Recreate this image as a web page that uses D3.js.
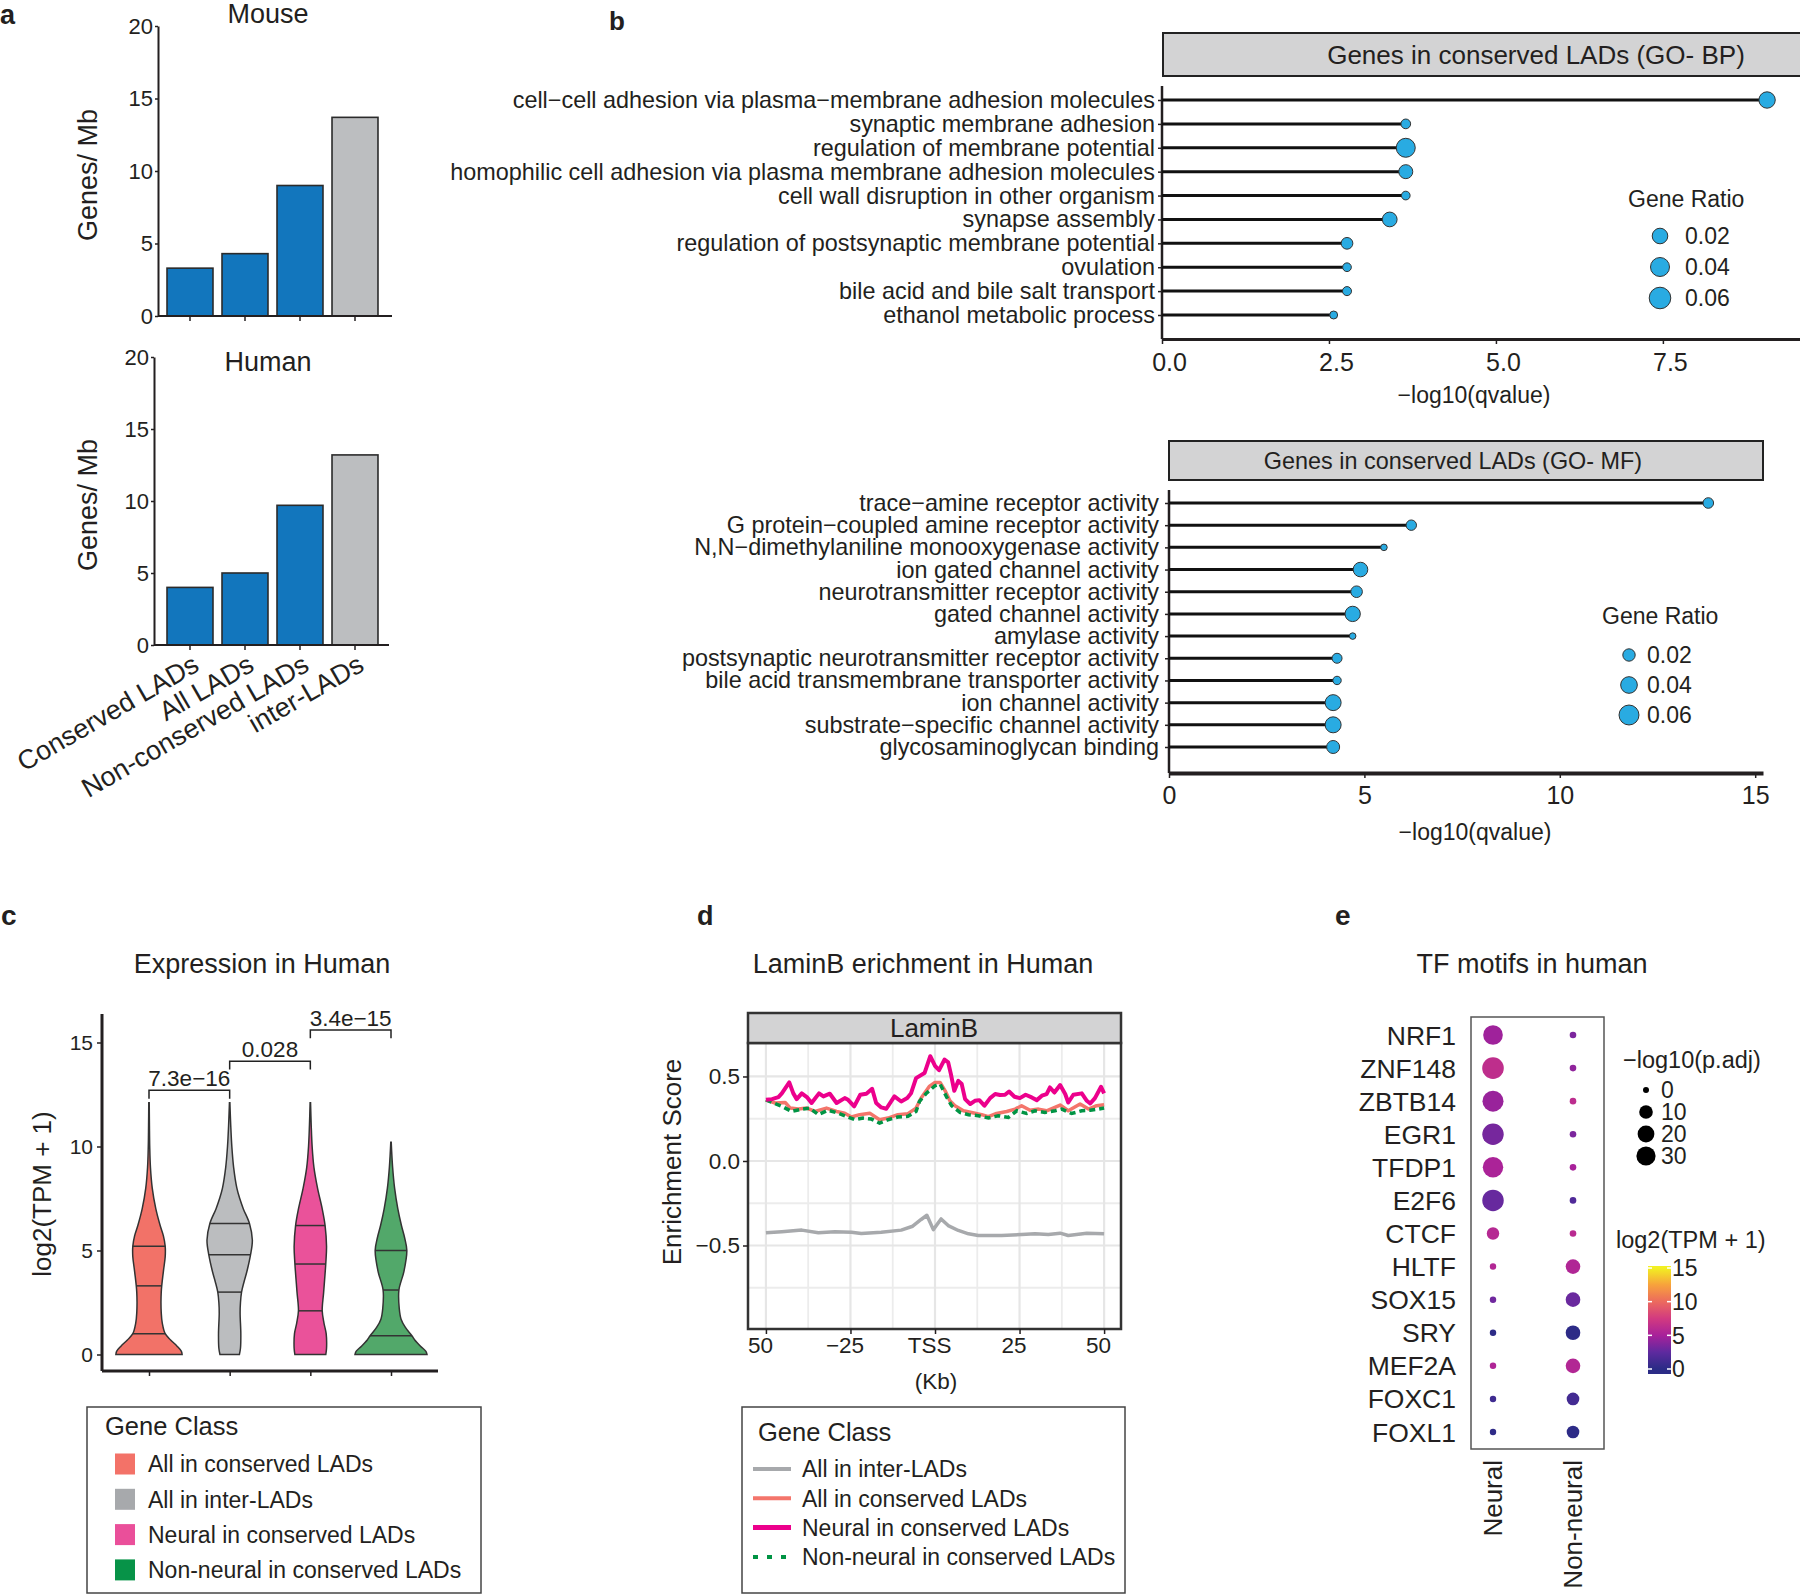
<!DOCTYPE html>
<html>
<head>
<meta charset="utf-8">
<script src="https://cdn.jsdelivr.net/npm/d3@7"></script>
<style>
  body { margin: 0; background: #fff; }
</style>
</head>
<body>
<script>
// ---------- data ----------
var ladClasses = ["Conserved LADs", "All LADs", "Non-conserved LADs", "inter-LADs"];
var mouseGenes = [3.3, 4.3, 9.0, 13.7];
var humanGenes = [4.0, 5.0, 9.7, 13.2];

var bpTerms = ["cell\u2212cell adhesion via plasma\u2212membrane adhesion molecules", "synaptic membrane adhesion",
  "regulation of membrane potential", "homophilic cell adhesion via plasma membrane adhesion molecules",
  "cell wall disruption in other organism", "synapse assembly", "regulation of postsynaptic membrane potential",
  "ovulation", "bile acid and bile salt transport", "ethanol metabolic process"];
var bpQ = [9.06, 3.65, 3.65, 3.65, 3.65, 3.41, 2.77, 2.77, 2.77, 2.57];
var bpRatio = [0.024, 0.0016, 0.04, 0.013, 0.0005, 0.016, 0.0055, 0.0005, 0.0008, 0.0001];

var mfTerms = ["trace\u2212amine receptor activity", "G protein\u2212coupled amine receptor activity",
  "N,N\u2212dimethylaniline monooxygenase activity", "ion gated channel activity", "neurotransmitter receptor activity",
  "gated channel activity", "amylase activity", "postsynaptic neurotransmitter receptor activity",
  "bile acid transmembrane transporter activity", "ion channel activity", "substrate\u2212specific channel activity",
  "glycosaminoglycan binding"];
var mfQ = [13.8, 6.2, 5.5, 4.9, 4.8, 4.7, 4.7, 4.3, 4.3, 4.2, 4.2, 4.2];
var mfRatio = [0.0136, 0.013, 0.0038, 0.0294, 0.017, 0.033, 0.0038, 0.0118, 0.0075, 0.0364, 0.0364, 0.0224];
var ratioLegend = [0.02, 0.04, 0.06];

var geneClasses = ["All in conserved LADs", "All in inter-LADs", "Neural in conserved LADs", "Non-neural in conserved LADs"];
// violin outlines: [log2(TPM+1), relative half width]
var violinConserved = [[0,0.92],[0.15,0.9],[0.4,0.78],[0.7,0.6],[1.0,0.45],[1.5,0.37],[2.0,0.34],[3.0,0.34],[4.0,0.4],[4.7,0.45],[5.2,0.45],[5.7,0.4],[6.2,0.31],[7.0,0.19],[8.0,0.09],[9.0,0.04],[10.0,0.02],[11.0,0.012],[12.1,0.006]];
var violinInter = [[0,0.27],[0.3,0.3],[1.0,0.31],[2.0,0.29],[2.5,0.3],[3.0,0.33],[3.5,0.4],[4.0,0.48],[4.8,0.58],[5.5,0.63],[6.3,0.55],[7.0,0.38],[7.5,0.28],[8.0,0.2],[9.0,0.11],[10.0,0.06],[11.0,0.03],[12.1,0.006]];
var violinNeural = [[0,0.43],[0.3,0.45],[1.0,0.44],[1.5,0.38],[2.1,0.33],[3.0,0.37],[4.4,0.43],[5.2,0.45],[6.2,0.41],[7.0,0.33],[8.0,0.2],[9.0,0.1],[10.0,0.05],[11.0,0.025],[12.1,0.006]];
var violinNonNeural = [[0,1.0],[0.15,0.97],[0.4,0.82],[0.7,0.66],[0.9,0.58],[1.3,0.4],[1.7,0.28],[2.2,0.23],[3.1,0.22],[4.0,0.36],[5.0,0.44],[5.6,0.38],[6.2,0.29],[7.0,0.19],[8.0,0.1],[9.0,0.045],[10.2,0.006]];
var violinQuartiles = [[1.0, 3.3, 5.2], [3.0, 4.8, 6.3], [2.1, 4.35, 6.2], [0.9, 3.1, 5.0]];
var pLabels = ["7.3e\u221216", "0.028", "3.4e\u221215"];
var pHeights = [12.7, 14.1, 15.6];

// LaminB profiles: [kb from TSS, enrichment score]
var interLADsProfile = [[-50,-0.425],[-45.3,-0.419],[-39.4,-0.409],[-34.5,-0.425],[-29.6,-0.419],[-24.7,-0.421],[-21.8,-0.429],[-15.9,-0.421],[-10.0,-0.409],[-6.6,-0.386],[-4.1,-0.346],[-2.4,-0.321],[-0.5,-0.406],[1.8,-0.343],[3.9,-0.382],[6.9,-0.411],[9.9,-0.431],[12.8,-0.441],[19.7,-0.441],[25.6,-0.435],[29.6,-0.431],[33.5,-0.435],[37.0,-0.427],[39.4,-0.441],[44.9,-0.427],[50,-0.431]];
var conservedProfile = [[-50,0.362],[-47.3,0.343],[-44.3,0.346],[-42.8,0.313],[-40.4,0.307],[-37.9,0.313],[-35.5,0.293],[-32.1,0.313],[-29.1,0.293],[-26.7,0.283],[-24.7,0.26],[-22.3,0.274],[-19.3,0.283],[-16.4,0.244],[-13.9,0.254],[-11.0,0.274],[-8.0,0.28],[-5.6,0.313],[-4.1,0.372],[-1.7,0.441],[0,0.465],[1.5,0.465],[3.0,0.415],[4.4,0.356],[5.9,0.327],[8.4,0.297],[10.8,0.287],[13.8,0.274],[15.8,0.262],[18.2,0.281],[21.2,0.293],[23.7,0.307],[25.6,0.327],[28.1,0.30],[30.6,0.307],[33.0,0.297],[37.0,0.331],[39.4,0.297],[42.9,0.337],[45.4,0.307],[47.8,0.327],[50,0.333]];
var neuralProfile = [[-50,0.362],[-48.2,0.366],[-46.3,0.378],[-45.3,0.40],[-43.1,0.465],[-41.9,0.40],[-40.9,0.366],[-39.4,0.40],[-37.9,0.378],[-36.5,0.343],[-34.3,0.40],[-33.0,0.382],[-31.1,0.398],[-29.1,0.343],[-26.7,0.372],[-25.7,0.362],[-23.9,0.323],[-22.1,0.392],[-20.3,0.398],[-18.6,0.427],[-17.4,0.343],[-15.9,0.317],[-14.4,0.309],[-12.0,0.382],[-10.0,0.352],[-8.2,0.372],[-7.1,0.40],[-5.6,0.49],[-3.1,0.52],[-1.4,0.62],[0,0.563],[1.2,0.537],[2.8,0.60],[3.9,0.583],[4.7,0.514],[5.7,0.415],[6.9,0.474],[7.9,0.455],[8.9,0.366],[10.4,0.337],[11.8,0.356],[13.1,0.36],[14.6,0.327],[16.3,0.372],[17.8,0.396],[19.2,0.39],[20.7,0.392],[21.9,0.411],[23.5,0.38],[25.1,0.372],[26.8,0.392],[28.6,0.376],[30.1,0.36],[31.6,0.386],[33.0,0.396],[34.0,0.435],[35.3,0.405],[37.0,0.449],[38.5,0.396],[39.4,0.346],[40.9,0.392],[43.4,0.40],[44.9,0.356],[45.9,0.34],[47.3,0.372],[49.1,0.439],[50,0.40]];
var nonNeuralProfile = [[-50,0.362],[-47.7,0.343],[-45.3,0.323],[-42.4,0.293],[-39.4,0.307],[-37.0,0.313],[-34.5,0.274],[-31.6,0.30],[-28.6,0.283],[-25.7,0.26],[-23.7,0.244],[-21.3,0.254],[-18.8,0.248],[-16.4,0.224],[-13.9,0.244],[-11.0,0.26],[-8.0,0.264],[-5.6,0.293],[-4.6,0.352],[-2.6,0.40],[0,0.445],[1.5,0.455],[3.5,0.376],[4.9,0.327],[7.4,0.287],[9.9,0.274],[12.8,0.268],[15.8,0.254],[18.7,0.268],[21.7,0.258],[24.2,0.297],[27.1,0.281],[29.6,0.297],[32.5,0.287],[35.5,0.297],[37.5,0.307],[40.4,0.281],[43.4,0.297],[45.9,0.30],[48.3,0.307],[50,0.313]];
var kbTicks = [-50, -25, 0, 25, 50];
var kbTickLabels = ["50", "\u221225", "TSS", "25", "50"];

var tfNames = ["NRF1", "ZNF148", "ZBTB14", "EGR1", "TFDP1", "E2F6", "CTCF", "HLTF", "SOX15", "SRY", "MEF2A", "FOXC1", "FOXL1"];
var tfGroups = ["Neural", "Non-neural"];
var neuralPadj = [32, 42, 39, 41, 36, 41, 7.1, 0.03, 0.03, 0.03, 0.03, 0.03, 0.03];
var nonNeuralPadj = [0.06, 0.06, 0.06, 0.06, 0.06, 0.06, 0.06, 12.8, 12.8, 12.8, 12.8, 7.6, 7.6];
var neuralTPM = [4.7, 6.3, 4.5, 3.3, 5.2, 2.8, 5.8, 5.6, 3.1, 0.1, 5.4, 1.0, 0.2];
var nonNeuralTPM = [3.5, 4.2, 6.2, 3.5, 5.0, 1.8, 6.0, 5.5, 2.9, 0.1, 5.6, 1.2, 0.1];
var padjLegend = [0, 10, 20, 30];
var tpmTicks = [0, 5, 10, 15];

// ---------- helpers ----------
var FONT = '"Liberation Sans", Arial, Helvetica, sans-serif';
var INK = "#231f20";
var svg = d3.select("body").append("svg").attr("width", 1800).attr("height", 1594);

function label(g, x, y, s, size, o) {
  o = o || {};
  return g.append("text").attr("x", x).attr("y", y).text(s)
    .attr("font-family", FONT).attr("font-size", size + "px").attr("fill", INK)
    .attr("text-anchor", o.anchor || "start")
    .attr("font-weight", o.weight || "normal")
    .attr("dy", o.dy || null)
    .attr("transform", o.rotate ? "rotate(" + o.rotate + "," + x + "," + y + ")" : null);
}

function styleAxis(ax, size, w) {
  ax.selectAll("text").attr("font-family", FONT).attr("font-size", size + "px").attr("fill", INK);
  ax.selectAll(".tick line").attr("stroke", INK).attr("stroke-width", 1.5);
  ax.select(".domain").attr("stroke", INK).attr("stroke-width", w);
}

// panel letters
label(svg, 0, 24, "a", 27, {weight: "bold"});
label(svg, 609, 30, "b", 26, {weight: "bold"});
label(svg, 1, 925, "c", 28, {weight: "bold"});
label(svg, 697, 925, "d", 27, {weight: "bold"});
label(svg, 1335, 925, "e", 28, {weight: "bold"});

// ---------- a: gene density bars ----------
function barPanel(title, vals, o) {
  var g = svg.append("g");
  var x = d3.scaleBand().domain(ladClasses).range([162.5, 382.5]).paddingInner(0.164).paddingOuter(0.082);
  var y = d3.scaleLinear().domain([0, 20]).range([o.y0, o.y20]);

  g.selectAll("rect").data(vals).enter().append("rect")
    .attr("x", function(d, i) { return x(ladClasses[i]); })
    .attr("width", x.bandwidth())
    .attr("y", function(d) { return y(d); })
    .attr("height", function(d) { return o.y0 - y(d); })
    .attr("fill", function(d, i) { return i == 3 ? "#bcbec0" : "#1276bd"; })
    .attr("stroke", "#2b2b2b").attr("stroke-width", 1.6);

  var ya = g.append("g").attr("transform", "translate(" + o.ax + ",0)")
    .call(d3.axisLeft(y).tickValues([0, 5, 10, 15, 20]).tickSize(3).tickSizeOuter(0).tickPadding(2));
  styleAxis(ya, 22, 2);

  var xa = g.append("g").attr("transform", "translate(0," + o.y0 + ")")
    .call(d3.axisBottom(x).tickSize(5).tickSizeOuter(0).tickFormat(""));
  styleAxis(xa, 22, 2);
  xa.select(".domain").attr("d", "M" + o.ax + ",0H" + o.xEnd);

  label(g, 268, o.titleY, title, o.titleSize, {anchor: "middle"});
  label(g, 88, o.labelY, "Genes/ Mb", 27, {anchor: "middle", rotate: -90, dy: "0.35em"});

  if (o.showX) {
    g.selectAll(".xl").data(ladClasses).enter().append("text")
      .attr("transform", function(d) { return "translate(" + (x(d) + x.bandwidth() / 2 + 1) + "," + (o.y0 + 8) + ") rotate(-30)"; })
      .attr("text-anchor", "end").attr("dy", "0.72em")
      .attr("font-family", FONT).attr("font-size", "27px").attr("fill", INK)
      .text(function(d) { return d; });
  }
}
barPanel("Mouse", mouseGenes, {y0: 316, y20: 26, ax: 158, xEnd: 392, titleY: 23, titleSize: 27, labelY: 175, showX: false});
barPanel("Human", humanGenes, {y0: 645, y20: 357, ax: 154, xEnd: 389, titleY: 371, titleSize: 27, labelY: 505, showX: true});

// ---------- b: GO lollipops ----------
function lollipop(terms, q, ratio, o) {
  var g = svg.append("g");
  var x = d3.scaleLinear().domain(o.xDomain).range(o.xRange);
  var y = d3.scalePoint().domain(terms).range(o.yRange);
  var r = d3.scaleSqrt().domain([0, 0.06]).range(o.rRange);

  g.append("rect").attr("x", o.strip[0]).attr("y", o.strip[1])
    .attr("width", o.strip[2] - o.strip[0]).attr("height", o.strip[3] - o.strip[1])
    .attr("fill", "#d3d3d4").attr("stroke", "#222").attr("stroke-width", 2);
  label(g, o.stripTextX, (o.strip[1] + o.strip[3]) / 2, o.stripText, o.stripSize, {anchor: "middle", dy: "0.36em"});

  var ya = g.append("g").attr("transform", "translate(" + o.xRange[0] + ",0)")
    .call(d3.axisLeft(y).tickSize(4).tickSizeOuter(0).tickPadding(o.labelPad));
  styleAxis(ya, 23.4, 2.5);
  ya.select(".domain").attr("d", "M0," + o.axisTop + "V" + o.axisY);

  var xa = g.append("g").attr("transform", "translate(0," + o.axisY + ")")
    .call(d3.axisBottom(x).tickValues(o.ticks).tickFormat(o.fmt).tickSize(5).tickSizeOuter(0).tickPadding(o.tickPad));
  styleAxis(xa, 25, o.axisW);
  xa.selectAll("text").attr("dx", o.tickDx);
  label(g, o.titleX, o.titleY, "\u2212log10(qvalue)", 23, {anchor: "middle", dy: "0.35em"});

  g.selectAll(".stick").data(q).enter().append("line")
    .attr("x1", x(0)).attr("x2", function(d) { return x(d); })
    .attr("y1", function(d, i) { return y(terms[i]); }).attr("y2", function(d, i) { return y(terms[i]); })
    .attr("stroke", "#111").attr("stroke-width", 3);
  g.selectAll(".dot").data(q).enter().append("circle")
    .attr("cx", function(d) { return x(d); })
    .attr("cy", function(d, i) { return y(terms[i]); })
    .attr("r", function(d, i) { return r(ratio[i]); })
    .attr("fill", "#29abe2").attr("stroke", "#333").attr("stroke-width", 1);

  // legend
  label(g, o.leg.x, o.leg.titleY, "Gene Ratio", 23);
  ratioLegend.forEach(function(v, i) {
    var cy = o.leg.y0 + i * o.leg.dy;
    g.append("circle").attr("cx", o.leg.dotX).attr("cy", cy).attr("r", r(v))
      .attr("fill", "#29abe2").attr("stroke", "#333").attr("stroke-width", 1);
    label(g, o.leg.textX, cy, d3.format(".2f")(v), 23, {dy: "0.36em"});
  });
}
lollipop(bpTerms, bpQ, bpRatio, {
  xDomain: [0, 11.2], xRange: [1162, 1910], yRange: [100, 315], rRange: [3.7, 10.8],
  strip: [1163, 33, 1910, 76], stripText: "Genes in conserved LADs (GO- BP)", stripTextX: 1536, stripSize: 26,
  axisTop: 86, axisY: 339, axisW: 3, labelPad: 3, ticks: [0, 2.5, 5, 7.5], fmt: d3.format(".1f"), tickPad: 9, tickDx: 7,
  titleX: 1474, titleY: 395,
  leg: {x: 1628, titleY: 207, dotX: 1660, textX: 1685, y0: 236, dy: 31}
});
lollipop(mfTerms, mfQ, mfRatio, {
  xDomain: [0, 15.2], xRange: [1169, 1763], yRange: [503, 747], rRange: [1.04, 9.98],
  strip: [1169, 441, 1763, 480], stripText: "Genes in conserved LADs (GO- MF)", stripTextX: 1453, stripSize: 23.4,
  axisTop: 490, axisY: 773, axisW: 4, labelPad: 6, ticks: [0, 5, 10, 15], fmt: d3.format("d"), tickPad: 8, tickDx: 0,
  titleX: 1475, titleY: 832,
  leg: {x: 1602, titleY: 624, dotX: 1629, textX: 1647, y0: 655, dy: 30}
});

// ---------- c: violins ----------
(function() {
  var g = svg.append("g");
  var vy = d3.scaleLinear().domain([0, 15]).range([1354.5, 1042.5]);
  var vx = d3.scalePoint().domain(geneClasses).range([149, 391]);
  var vw = d3.scaleLinear().domain([0, 1]).range([0, 36]);
  var shapes = [violinConserved, violinInter, violinNeural, violinNonNeural];
  var fills = ["#f27268", "#bbbdbf", "#ea529a", "#52a86a"];
  var keys = ["#f37268", "#a7a9ac", "#ea4f9a", "#079348"];

  label(g, 262, 964, "Expression in Human", 27, {anchor: "middle", dy: "0.35em"});

  shapes.forEach(function(sh, k) {
    var cx = vx(geneClasses[k]);
    var area = d3.area().curve(d3.curveCatmullRom)
      .y(function(d) { return vy(d[0]); })
      .x0(function(d) { return cx - vw(d[1]); })
      .x1(function(d) { return cx + vw(d[1]); });
    g.append("path").attr("d", area(sh)).attr("fill", fills[k]).attr("stroke", "#333").attr("stroke-width", 1.5);
    violinQuartiles[k].forEach(function(qv) {
      var w = 0;
      for (var i = 1; i < sh.length; i++) {
        if (qv <= sh[i][0]) { var t = (qv - sh[i-1][0]) / (sh[i][0] - sh[i-1][0]); w = sh[i-1][1] + t * (sh[i][1] - sh[i-1][1]); break; }
      }
      g.append("line").attr("x1", cx - vw(w)).attr("x2", cx + vw(w)).attr("y1", vy(qv)).attr("y2", vy(qv))
        .attr("stroke", "#333").attr("stroke-width", 1.5);
    });
  });

  var ya = g.append("g").attr("transform", "translate(102,0)")
    .call(d3.axisLeft(vy).tickValues([0, 5, 10, 15]).tickSize(5).tickSizeOuter(0).tickPadding(4));
  styleAxis(ya, 21, 3);
  ya.select(".domain").attr("d", "M0,1014V1371");
  var xa = g.append("g").attr("transform", "translate(0,1371)")
    .call(d3.axisBottom(vx).tickSize(5).tickSizeOuter(0).tickFormat(""));
  styleAxis(xa, 21, 3);
  xa.select(".domain").attr("d", "M102,0H438");
  label(g, 42, 1194, "log2(TPM + 1)", 26, {anchor: "middle", rotate: -90, dy: "0.35em"});

  pLabels.forEach(function(p, i) {
    var x1 = vx(geneClasses[i]), x2 = vx(geneClasses[i + 1]);
    var yb = vy(pHeights[i]), yl = vy(pHeights[i] - 0.4);
    g.append("path").attr("d", "M" + x1 + "," + yl + "V" + yb + "H" + x2 + "V" + yl)
      .attr("fill", "none").attr("stroke", "#222").attr("stroke-width", 1.5);
    label(g, (x1 + x2) / 2, yb - 4, p, 22.5, {anchor: "middle"});
  });

  g.append("rect").attr("x", 87).attr("y", 1407).attr("width", 394).attr("height", 186)
    .attr("fill", "none").attr("stroke", "#444").attr("stroke-width", 1.5);
  label(g, 105, 1426, "Gene Class", 25.5, {dy: "0.35em"});
  geneClasses.forEach(function(c, i) {
    var cy = 1464 + i * 35.3;
    g.append("rect").attr("x", 115).attr("y", cy - 10.5).attr("width", 20).attr("height", 21).attr("fill", keys[i]);
    label(g, 148, cy, c, 23, {dy: "0.36em"});
  });
})();

// ---------- d: LaminB profiles ----------
(function() {
  var g = svg.append("g");
  var dx = d3.scaleLinear().domain([-55.3, 55]).range([748, 1121]);
  var dy = d3.scaleLinear().domain([-0.994, 0.698]).range([1329, 1043]);

  label(g, 923, 964, "LaminB erichment in Human", 27, {anchor: "middle", dy: "0.35em"});

  g.append("rect").attr("x", 748).attr("y", 1043).attr("width", 373).attr("height", 286).attr("fill", "#fff");
  [-37.5, -12.5, 12.5, 37.5].forEach(function(v) {
    g.append("line").attr("x1", dx(v)).attr("x2", dx(v)).attr("y1", 1043).attr("y2", 1329).attr("stroke", "#ececec").attr("stroke-width", 1.8);
  });
  [-0.75, -0.25, 0.25].forEach(function(v) {
    g.append("line").attr("y1", dy(v)).attr("y2", dy(v)).attr("x1", 748).attr("x2", 1121).attr("stroke", "#ececec").attr("stroke-width", 1.8);
  });
  kbTicks.forEach(function(v) {
    g.append("line").attr("x1", dx(v)).attr("x2", dx(v)).attr("y1", 1043).attr("y2", 1329).attr("stroke", "#e6e6e6").attr("stroke-width", 2.2);
  });
  [-0.5, 0, 0.5].forEach(function(v) {
    g.append("line").attr("y1", dy(v)).attr("y2", dy(v)).attr("x1", 748).attr("x2", 1121).attr("stroke", "#e6e6e6").attr("stroke-width", 2.2);
  });

  var line = d3.line().x(function(d) { return dx(d[0]); }).y(function(d) { return dy(d[1]); });
  g.append("path").attr("d", line(interLADsProfile)).attr("fill", "none").attr("stroke", "#a7a9ac").attr("stroke-width", 3.5).attr("stroke-linejoin", "round");
  g.append("path").attr("d", line(conservedProfile)).attr("fill", "none").attr("stroke", "#f4756b").attr("stroke-width", 3.5).attr("stroke-linejoin", "round");
  g.append("path").attr("d", line(nonNeuralProfile)).attr("fill", "none").attr("stroke", "#009444").attr("stroke-width", 3.5).attr("stroke-dasharray", "6,4");
  g.append("path").attr("d", line(neuralProfile)).attr("fill", "none").attr("stroke", "#ec008c").attr("stroke-width", 4).attr("stroke-linejoin", "round");

  g.append("rect").attr("x", 748).attr("y", 1043).attr("width", 373).attr("height", 286)
    .attr("fill", "none").attr("stroke", "#333").attr("stroke-width", 2.5);
  g.append("rect").attr("x", 748).attr("y", 1013).attr("width", 373).attr("height", 30)
    .attr("fill", "#d3d3d4").attr("stroke", "#333").attr("stroke-width", 2.5);
  label(g, 934, 1028, "LaminB", 26, {anchor: "middle", dy: "0.36em"});

  var xa = g.append("g").attr("transform", "translate(0,1329)")
    .call(d3.axisBottom(dx).tickValues(kbTicks).tickSize(5).tickPadding(3)
      .tickFormat(function(d, i) { return kbTickLabels[i]; }));
  styleAxis(xa, 22.5, 0);
  xa.selectAll("text").attr("dx", -6);
  xa.select(".domain").remove();
  var ya = g.append("g").attr("transform", "translate(748,0)")
    .call(d3.axisLeft(dy).tickValues([-0.5, 0, 0.5]).tickSize(5).tickPadding(3).tickFormat(function(d) { return d3.format(".1f")(d).replace("-", "\u2212"); }));
  styleAxis(ya, 22.5, 0);
  ya.select(".domain").remove();
  label(g, 936, 1381, "(Kb)", 22.5, {anchor: "middle", dy: "0.35em"});
  label(g, 672, 1162, "Enrichment Score", 26, {anchor: "middle", rotate: -90, dy: "0.35em"});

  g.append("rect").attr("x", 742).attr("y", 1407).attr("width", 383).attr("height", 186)
    .attr("fill", "none").attr("stroke", "#444").attr("stroke-width", 1.5);
  label(g, 758, 1432, "Gene Class", 25.5, {dy: "0.35em"});
  var keyNames = ["All in inter-LADs", "All in conserved LADs", "Neural in conserved LADs", "Non-neural in conserved LADs"];
  var keyCols = ["#a7a9ac", "#f4756b", "#ec008c", "#009444"];
  var keyW = [4, 4, 5, 4];
  keyNames.forEach(function(c, i) {
    var cy = 1469 + i * 29.3;
    g.append("line").attr("x1", 753).attr("x2", 791).attr("y1", cy).attr("y2", cy)
      .attr("stroke", keyCols[i]).attr("stroke-width", keyW[i]).attr("stroke-dasharray", i == 3 ? "5,9" : null);
    label(g, 802, cy, c, 23, {dy: "0.36em"});
  });
})();

// ---------- e: TF motif dots ----------
(function() {
  var g = svg.append("g");
  var ex = d3.scalePoint().domain(tfGroups).range([1493, 1573]);
  var ey = d3.scalePoint().domain(tfNames).range([1035, 1432]);
  var er = d3.scaleSqrt().domain([0, 30]).range([3, 9.6]);
  var ec = d3.scaleLinear().domain([0, 2.5, 5, 7.5, 10, 12.5, 15])
    .range(["#2b2b86", "#5e2a9f", "#a8219a", "#d23a80", "#ec6a5e", "#f7a23c", "#f2f022"]);

  label(g, 1532, 964, "TF motifs in human", 27, {anchor: "middle", dy: "0.35em"});
  g.append("rect").attr("x", 1471).attr("y", 1017).attr("width", 133).attr("height", 432)
    .attr("fill", "none").attr("stroke", "#555").attr("stroke-width", 1.5);

  tfNames.forEach(function(n, i) {
    label(g, 1456, ey(n), n, 26.5, {anchor: "end", dy: "0.36em"});
    g.append("circle").attr("cx", ex("Neural")).attr("cy", ey(n)).attr("r", er(neuralPadj[i])).attr("fill", ec(neuralTPM[i]));
    g.append("circle").attr("cx", ex("Non-neural")).attr("cy", ey(n)).attr("r", er(nonNeuralPadj[i])).attr("fill", ec(nonNeuralTPM[i]));
  });
  tfGroups.forEach(function(grp) {
    label(g, ex(grp), 1460, grp, 26, {anchor: "end", rotate: -90, dy: "0.36em"});
  });

  label(g, 1623, 1060, "\u2212log10(p.adj)", 23.5, {dy: "0.35em"});
  padjLegend.forEach(function(v, i) {
    var cy = 1090 + i * 22;
    g.append("circle").attr("cx", 1646).attr("cy", cy).attr("r", er(v)).attr("fill", "#000");
    label(g, 1661, cy, v, 23, {dy: "0.36em"});
  });

  label(g, 1616, 1240, "log2(TPM + 1)", 23.5, {dy: "0.35em"});
  var cb = d3.scaleLinear().domain([0, 15]).range([1369, 1268]);
  var defs = svg.append("defs");
  var grad = defs.append("linearGradient").attr("id", "tpmGrad").attr("x1", 0).attr("y1", 1).attr("x2", 0).attr("y2", 0);
  grad.append("stop").attr("offset", 0).attr("stop-color", ec(0));
  d3.range(0, 15.01, 0.5).forEach(function(v) {
    grad.append("stop").attr("offset", (cb(v) - 1374) / (1266 - 1374)).attr("stop-color", ec(v));
  });
  g.append("rect").attr("x", 1648).attr("y", 1266).attr("width", 23).attr("height", 108).attr("fill", "url(#tpmGrad)");
  tpmTicks.forEach(function(v) {
    g.append("line").attr("x1", 1648).attr("x2", 1652).attr("y1", cb(v)).attr("y2", cb(v)).attr("stroke", "#fff").attr("stroke-width", 1.5);
    g.append("line").attr("x1", 1667).attr("x2", 1671).attr("y1", cb(v)).attr("y2", cb(v)).attr("stroke", "#fff").attr("stroke-width", 1.5);
    label(g, 1672, cb(v), v, 23, {dy: "0.36em"});
  });
})();
</script>
</body>
</html>
